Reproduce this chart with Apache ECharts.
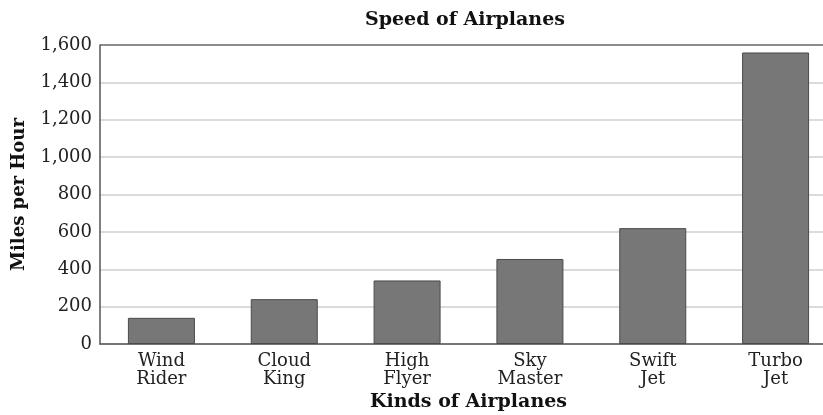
<!DOCTYPE html>
<html>
<head>
<meta charset="utf-8">
<script src="https://cdn.jsdelivr.net/npm/echarts@6/dist/echarts.min.js"></script>
<style>
  html, body { margin: 0; padding: 0; background: #fff; }
  #main { width: 823px; height: 415px; }
</style>
</head>
<body>
<div id="main"></div>
<script>
// data
var planes = ['Wind\nRider', 'Cloud\nKing', 'High\nFlyer', 'Sky\nMaster', 'Swift\nJet', 'Turbo\nJet'];
var speeds = [140, 240, 340, 455, 620, 1560];
var yTicks = [0, 200, 400, 600, 800, 1000, 1200, 1400, 1600];

var serif = 'DejaVu Serif';
var myChart = echarts.init(document.getElementById('main'), null, { renderer: 'canvas' });

// light grid lines, the top one (1,600) darker like a frame
var gridColors = yTicks.map(function (v, i) {
    return i === yTicks.length - 1 ? '#666' : '#cfcfcf';
});

var option = {
    animation: false,
    backgroundColor: '#fff',
    title: {
        text: 'Speed of Airplanes',
        left: 360,
        top: 6,
        textStyle: { fontFamily: serif, fontWeight: 'bold', fontSize: 19, color: '#111' }
    },
    grid: {
        left: 100,
        width: 737,
        top: 45,
        bottom: 71,
        outerBoundsMode: 'none',
        containLabel: false
    },
    xAxis: {
        type: 'category',
        data: planes,
        name: 'Kinds of Airplanes',
        nameLocation: 'middle',
        nameGap: 47,
        nameTextStyle: { fontFamily: serif, fontWeight: 'bold', fontSize: 19, color: '#111' },
        axisLine: { lineStyle: { color: '#555', width: 1.5 } },
        axisTick: { show: false },
        axisLabel: {
            fontFamily: serif, fontSize: 18, color: '#222',
            lineHeight: 18, margin: 8
        }
    },
    yAxis: {
        type: 'value',
        min: 0,
        max: 1600,
        interval: 200,
        name: 'Miles per Hour',
        nameLocation: 'middle',
        nameGap: 72,
        nameRotate: 90,
        nameTextStyle: { fontFamily: serif, fontWeight: 'bold', fontSize: 18, color: '#111' },
        axisLine: { show: true, lineStyle: { color: '#555', width: 1.5 } },
        axisTick: { show: false },
        splitLine: { lineStyle: { color: gridColors, width: 1.5 } },
        axisLabel: {
            fontFamily: serif, fontSize: 18, color: '#222', margin: 8,
            formatter: function (v) {
                return yTicks.indexOf(v) >= 0 ? v.toLocaleString('en-US') : '';
            }
        }
    },
    series: [{
        type: 'bar',
        data: speeds,
        barWidth: 67,
        itemStyle: { color: '#777777', borderColor: '#4a4a4a', borderWidth: 1 }
    }]
};

myChart.setOption(option);
</script>
</body>
</html>
